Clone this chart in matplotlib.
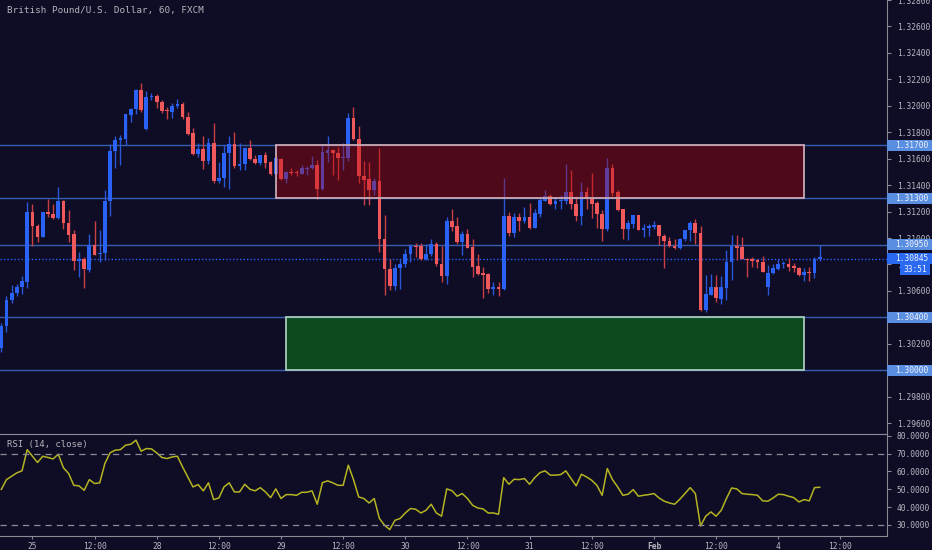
import matplotlib
matplotlib.use('Agg')
import matplotlib.pyplot as plt
import matplotlib.transforms as mtransforms
from matplotlib.patches import Rectangle
import numpy as np

# hourly GBP/USD candles
opens = [1.30170, 1.30336, 1.30530, 1.30583, 1.30628, 1.30668, 1.31200, 1.31091, 1.31011, 1.31197,
         1.31180, 1.31152, 1.31278, 1.31112, 1.31029, 1.30830, 1.30845, 1.30759, 1.30948, 1.30878,
         1.30887, 1.31278, 1.31655, 1.31744, 1.31751, 1.31933, 1.31978, 1.32122, 1.31824, 1.32063,
         1.32073, 1.32026, 1.31967, 1.31952, 1.31995, 1.32013, 1.31918, 1.31791, 1.31633, 1.31673,
         1.31580, 1.31716, 1.31429, 1.31454, 1.31640, 1.31711, 1.31545, 1.31560, 1.31683, 1.31600,
         1.31565, 1.31625, 1.31572, 1.31482, 1.31600, 1.31444, 1.31499, 1.31502, 1.31487, 1.31522,
         1.31527, 1.31550, 1.31371, 1.31646, 1.31668, 1.31646, 1.31605, 1.31608, 1.31905, 1.31751,
         1.31472, 1.31444, 1.31361, 1.31429, 1.30991, 1.30767, 1.30638, 1.30770, 1.30800, 1.30878,
         1.30940, 1.30936, 1.30838, 1.30883, 1.30958, 1.30804, 1.30711, 1.31127, 1.31089, 1.30973,
         1.31029, 1.30930, 1.30787, 1.30734, 1.30726, 1.30618, 1.30626, 1.30611, 1.31165, 1.31038,
         1.31157, 1.31132, 1.31162, 1.31079, 1.31185, 1.31280, 1.31318, 1.31255, 1.31280, 1.31280,
         1.31351, 1.31260, 1.31167, 1.31351, 1.31295, 1.31263, 1.31182, 1.31072, 1.31532, 1.31348,
         1.31217, 1.31072, 1.31106, 1.31172, 1.31064, 1.31076, 1.31084, 1.31097, 1.31013, 1.30978,
         1.30940, 1.30923, 1.30989, 1.31059, 1.31110, 1.31038, 1.30455, 1.30570, 1.30628, 1.30540,
         1.30623, 1.30815, 1.30940, 1.30930, 1.30845, 1.30840, 1.30832, 1.30819, 1.30631, 1.30732,
         1.30767, 1.30800, 1.30804, 1.30787, 1.30777, 1.30717, 1.30742, 1.30732, 1.30845]
highs = [1.30356, 1.30563, 1.30643, 1.30651, 1.30711, 1.31270, 1.31255, 1.31104, 1.31200, 1.31293,
         1.31260, 1.31389, 1.31285, 1.31210, 1.31059, 1.30898, 1.30857, 1.31034, 1.31127, 1.31057,
         1.31361, 1.31708, 1.31769, 1.31776, 1.31940, 1.31983, 1.32124, 1.32169, 1.32111, 1.32099,
         1.32086, 1.32046, 1.31988, 1.32023, 1.32054, 1.32026, 1.31955, 1.31835, 1.31716, 1.31771,
         1.31754, 1.31872, 1.31572, 1.31706, 1.31769, 1.31799, 1.31716, 1.31691, 1.31739, 1.31625,
         1.31631, 1.31648, 1.31582, 1.31610, 1.31605, 1.31507, 1.31527, 1.31512, 1.31555, 1.31542,
         1.31618, 1.31593, 1.31714, 1.31769, 1.31672, 1.31688, 1.31721, 1.31948, 1.31990, 1.31844,
         1.31585, 1.31572, 1.31457, 1.31678, 1.31177, 1.30838, 1.30800, 1.30845, 1.30915, 1.30953,
         1.30966, 1.30963, 1.30958, 1.30989, 1.30973, 1.30943, 1.31157, 1.31217, 1.31162, 1.31051,
         1.31066, 1.30989, 1.30883, 1.30779, 1.30732, 1.30668, 1.30666, 1.31454, 1.31200, 1.31189,
         1.31189, 1.31238, 1.31263, 1.31223, 1.31301, 1.31366, 1.31333, 1.31313, 1.31328, 1.31563,
         1.31512, 1.31321, 1.31421, 1.31386, 1.31489, 1.31283, 1.31210, 1.31603, 1.31557, 1.31361,
         1.31217, 1.31140, 1.31177, 1.31172, 1.31104, 1.31104, 1.31132, 1.31097, 1.31029, 1.31004,
         1.30993, 1.30998, 1.31064, 1.31125, 1.31147, 1.31089, 1.30719, 1.30726, 1.30719, 1.30711,
         1.30908, 1.31023, 1.31021, 1.31004, 1.30850, 1.30857, 1.30842, 1.30862, 1.30795, 1.30807,
         1.30845, 1.30825, 1.30850, 1.30812, 1.30779, 1.30777, 1.30779, 1.30857, 1.30950]
lows = [1.30140, 1.30291, 1.30510, 1.30563, 1.30573, 1.30623, 1.30936, 1.30970, 1.31004, 1.31159,
        1.31142, 1.31147, 1.31069, 1.30973, 1.30757, 1.30706, 1.30623, 1.30744, 1.30870, 1.30815,
        1.30832, 1.31167, 1.31527, 1.31555, 1.31701, 1.31877, 1.31935, 1.31952, 1.31820, 1.32041,
        1.31986, 1.31945, 1.31900, 1.31910, 1.31986, 1.31903, 1.31782, 1.31625, 1.31612, 1.31520,
        1.31563, 1.31419, 1.31414, 1.31386, 1.31371, 1.31529, 1.31517, 1.31517, 1.31593, 1.31560,
        1.31550, 1.31529, 1.31479, 1.31475, 1.31437, 1.31416, 1.31474, 1.31467, 1.31482, 1.31479,
        1.31522, 1.31298, 1.31365, 1.31578, 1.31474, 1.31442, 1.31517, 1.31580, 1.31745, 1.31416,
        1.31250, 1.31250, 1.31325, 1.30895, 1.30568, 1.30606, 1.30606, 1.30613, 1.30779, 1.30822,
        1.30855, 1.30832, 1.30835, 1.30865, 1.30787, 1.30668, 1.30653, 1.31051, 1.30958, 1.30872,
        1.30921, 1.30702, 1.30724, 1.30548, 1.30581, 1.30570, 1.30560, 1.30606, 1.31013, 1.31008,
        1.31054, 1.31110, 1.31066, 1.31074, 1.31159, 1.31278, 1.31253, 1.31223, 1.31223, 1.31260,
        1.31223, 1.31132, 1.31097, 1.31223, 1.31152, 1.31074, 1.30976, 1.31054, 1.31318, 1.31208,
        1.30996, 1.30983, 1.31079, 1.31059, 1.31004, 1.31019, 1.31069, 1.30951, 1.30774, 1.30933,
        1.30918, 1.30918, 1.30981, 1.30978, 1.30958, 1.30447, 1.30442, 1.30566, 1.30517, 1.30498,
        1.30535, 1.30681, 1.30832, 1.30840, 1.30702, 1.30779, 1.30770, 1.30740, 1.30566, 1.30727,
        1.30757, 1.30777, 1.30751, 1.30742, 1.30714, 1.30674, 1.30676, 1.30694, 1.30827]
closes = [1.30336, 1.30532, 1.30583, 1.30628, 1.30674, 1.31200, 1.31089, 1.31011, 1.31195, 1.31182,
          1.31152, 1.31278, 1.31112, 1.31026, 1.30830, 1.30845, 1.30764, 1.30948, 1.30875, 1.30887,
          1.31278, 1.31661, 1.31741, 1.31759, 1.31935, 1.31978, 1.32122, 1.31967, 1.32066, 1.32073,
          1.32026, 1.31960, 1.31958, 1.31995, 1.32016, 1.31912, 1.31789, 1.31633, 1.31676, 1.31580,
          1.31716, 1.31429, 1.31457, 1.31643, 1.31711, 1.31545, 1.31563, 1.31683, 1.31597, 1.31567,
          1.31625, 1.31567, 1.31482, 1.31603, 1.31446, 1.31499, 1.31492, 1.31492, 1.31529, 1.31529,
          1.31550, 1.31371, 1.31648, 1.31668, 1.31640, 1.31605, 1.31610, 1.31905, 1.31748, 1.31467,
          1.31439, 1.31361, 1.31431, 1.30989, 1.30767, 1.30636, 1.30774, 1.30802, 1.30878, 1.30940,
          1.30933, 1.30845, 1.30883, 1.30958, 1.30802, 1.30711, 1.31127, 1.31084, 1.30973, 1.31029,
          1.30928, 1.30782, 1.30729, 1.30721, 1.30618, 1.30626, 1.30611, 1.31165, 1.31038, 1.31157,
          1.31132, 1.31162, 1.31079, 1.31187, 1.31291, 1.31318, 1.31255, 1.31280, 1.31291, 1.31351,
          1.31255, 1.31167, 1.31351, 1.31295, 1.31260, 1.31180, 1.31072, 1.31532, 1.31344, 1.31210,
          1.31072, 1.31112, 1.31172, 1.31059, 1.31079, 1.31089, 1.31097, 1.31013, 1.30976, 1.30936,
          1.30925, 1.30991, 1.31059, 1.31110, 1.31036, 1.30455, 1.30573, 1.30628, 1.30543, 1.30626,
          1.30815, 1.30940, 1.30928, 1.30842, 1.30835, 1.30830, 1.30815, 1.30744, 1.30732, 1.30770,
          1.30800, 1.30804, 1.30782, 1.30772, 1.30721, 1.30742, 1.30732, 1.30845, 1.30845]

rsi = [49.9, 55.4, 57.3, 59.2, 60.3, 72.2, 68.5, 65.0, 68.5, 67.8,
       67.0, 69.6, 62.0, 58.8, 52.2, 51.9, 49.4, 55.4, 53.2, 53.6,
       64.4, 70.4, 71.9, 72.2, 74.7, 75.2, 77.5, 71.3, 72.8, 72.6,
       70.4, 67.8, 67.2, 68.1, 68.5, 62.5, 56.9, 51.3, 52.6, 49.1,
       53.6, 44.2, 45.1, 51.3, 53.6, 48.5, 48.5, 52.8, 50.0, 49.1,
       50.9, 48.5, 45.3, 50.2, 44.8, 47.0, 47.0, 46.6, 48.3, 48.3,
       49.1, 41.6, 53.7, 54.7, 53.6, 52.2, 52.2, 63.5, 55.4, 45.7,
       44.8, 42.3, 44.8, 33.6, 29.8, 27.4, 32.6, 33.6, 36.7, 39.2,
       38.8, 36.7, 38.2, 41.6, 36.7, 34.9, 50.2, 49.2, 46.1, 47.6,
       44.8, 41.0, 39.5, 39.0, 36.7, 36.7, 36.0, 56.5, 52.8, 55.6,
       55.4, 56.0, 52.8, 56.5, 59.3, 60.3, 57.9, 57.9, 58.2, 60.3,
       56.0, 51.9, 58.4, 56.9, 55.0, 52.2, 46.6, 61.6, 55.4, 51.3,
       46.6, 47.2, 49.8, 46.1, 46.6, 47.0, 47.6, 45.1, 43.3, 42.3,
       41.6, 44.4, 47.6, 50.9, 47.6, 29.4, 34.9, 37.3, 34.9, 38.2,
       44.8, 50.7, 50.2, 47.6, 47.2, 47.0, 46.6, 43.5, 43.3, 45.1,
       47.2, 47.0, 46.1, 45.3, 42.9, 44.2, 43.5, 50.9, 51.1]

levels = [1.31700, 1.31300, 1.30950, 1.30400, 1.30000]
last_price = 1.30845
countdown = '33:51'
# zones: first bar, last bar, low, high
resist_zone = (53, 155, 1.31300, 1.31700)
support_zone = (55, 155, 1.30000, 1.30400)

time_ticks = [6, 18, 30, 42, 54, 66, 78, 90, 102, 114, 126, 138, 150, 162]
time_labels = ['25', '12:00', '28', '12:00', '29', '12:00', '30', '12:00',
               '31', '12:00', 'Feb', '12:00', '4', '12:00']
price_ticks = np.round(np.arange(1.296, 1.3281, 0.002), 3)
rsi_ticks = [30, 40, 50, 60, 70, 80]

bg = '#0f0c25'
up_col, down_col = '#2a62f5', '#f0595b'
up_wick, down_wick = '#2858d8', '#c84044'
txt_col = '#b9b9c3'
spine_col = '#8a8a96'

plt.rcParams['font.family'] = 'DejaVu Sans Mono'

fig = plt.figure(figsize=(9.32, 5.5), dpi=100, facecolor=bg)
ax = fig.add_axes([0, 0.2109, 0.9517, 0.7891], facecolor=bg)
ax2 = fig.add_axes([0, 0.02545, 0.9517, 0.18545], facecolor=bg)

# candles
o = np.array(opens)
h = np.array(highs)
l = np.array(lows)
c = np.array(closes)
x = np.arange(len(o))
up = c >= o
body_lo = np.minimum(o, c)
body_h = np.maximum(np.abs(c - o), 0.00008)
ax.vlines(x, l, h, colors=np.where(up, up_wick, down_wick), lw=1, zorder=2)
ax.bar(x, body_h, bottom=body_lo, width=0.72,
       color=np.where(up, up_col, down_col), edgecolor='none', zorder=2.2)

# horizontal levels
for lv in levels:
    ax.axhline(lv, color='#3560b0', lw=1, zorder=1.5)
ax.axhline(last_price, color='#2962ff', lw=1, ls=(0, (1, 1.5)), zorder=1.5)

# zones (semi transparent, on top of candles)
x0, x1, y0, y1 = resist_zone
ax.add_patch(Rectangle((x0, y0), x1 - x0, y1 - y0, facecolor=(0.70, 0.02, 0.04, 0.39),
                       edgecolor='#c8a9b4', lw=1.3, zorder=3))
x0, x1, y0, y1 = support_zone
ax.add_patch(Rectangle((x0, y0), x1 - x0, y1 - y0, facecolor=(0.03, 0.68, 0.07, 0.39),
                       edgecolor='#a8c8bc', lw=1.3, zorder=3))

# price axis
ax.set_xlim(-0.25, 171.0)
ax.set_ylim(1.29518, 1.32800)
ax.yaxis.tick_right()
ax.set_yticks(price_ticks)
ax.set_yticklabels(['%.5f' % t for t in price_ticks])
ax.set_xticks([])
ax.tick_params(axis='y', colors=spine_col, labelcolor=txt_col, labelsize=5.7,
               length=3, width=0.8, pad=4)
for s in ['left', 'top']:
    ax.spines[s].set_visible(False)
ax.spines['right'].set_color(spine_col)
ax.spines['bottom'].set_color(spine_col)

# axis labels for the drawn levels
tr = mtransforms.blended_transform_factory(fig.transFigure, ax.transData)
half = 0.00042
for lv, col in [(l_, '#5a8ee0') for l_ in levels] + [(last_price, '#2b6af0')]:
    ax.add_patch(Rectangle((887 / 932, lv - half), 1 - 887 / 932, 2 * half,
                           transform=tr, facecolor=col, edgecolor='none',
                           clip_on=False, zorder=6))
    ax.text(895 / 932, lv, '%.5f' % lv, transform=tr, color='#f0f4ff',
            fontsize=5.7, va='center', ha='left', clip_on=False, zorder=7)
ax.add_patch(Rectangle((900 / 932, last_price - 3 * half), 30 / 932, 2 * half,
                       transform=tr, facecolor='#2b6af0', edgecolor='none',
                       clip_on=False, zorder=6))
ax.text(915 / 932, last_price - 2 * half, countdown, transform=tr, color='#f0f4ff',
        fontsize=5.7, va='center', ha='center', clip_on=False, zorder=7)

# RSI panel
ax2.plot(x, rsi, color='#b4b422', lw=1.1)
ax2.axhline(70, color='#8c8c9a', lw=0.9, ls=(0, (5, 4)))
ax2.axhline(30, color='#8c8c9a', lw=0.9, ls=(0, (5, 4)))
ax2.set_xlim(-0.25, 171.0)
ax2.set_ylim(23.8, 80.95)
ax2.yaxis.tick_right()
ax2.set_yticks(rsi_ticks)
ax2.set_yticklabels(['%.4f' % t for t in rsi_ticks])
ax2.set_xticks(time_ticks)
ax2.set_xticklabels(time_labels)
for lab in ax2.get_xticklabels():
    if lab.get_text() == 'Feb':
        lab.set_fontweight('bold')
ax2.tick_params(axis='y', colors=spine_col, labelcolor=txt_col, labelsize=5.7,
                length=3, width=0.8, pad=4)
ax2.tick_params(axis='x', colors=spine_col, labelcolor=txt_col, labelsize=5.7,
                length=2, width=0.8, pad=2)
ax2.spines['left'].set_visible(False)
for s in ['right', 'top', 'bottom']:
    ax2.spines[s].set_color(spine_col)

fig.text(7 / 932, 1 - 10 / 550, 'British Pound/U.S. Dollar, 60, FXCM',
         color='#b4b4bc', fontsize=6.7, va='center', ha='left')
fig.text(7 / 932, 1 - 444 / 550, 'RSI (14, close)',
         color='#b4b4bc', fontsize=6.5, va='center', ha='left')

fig.savefig('out.png', dpi=100, facecolor=bg)
